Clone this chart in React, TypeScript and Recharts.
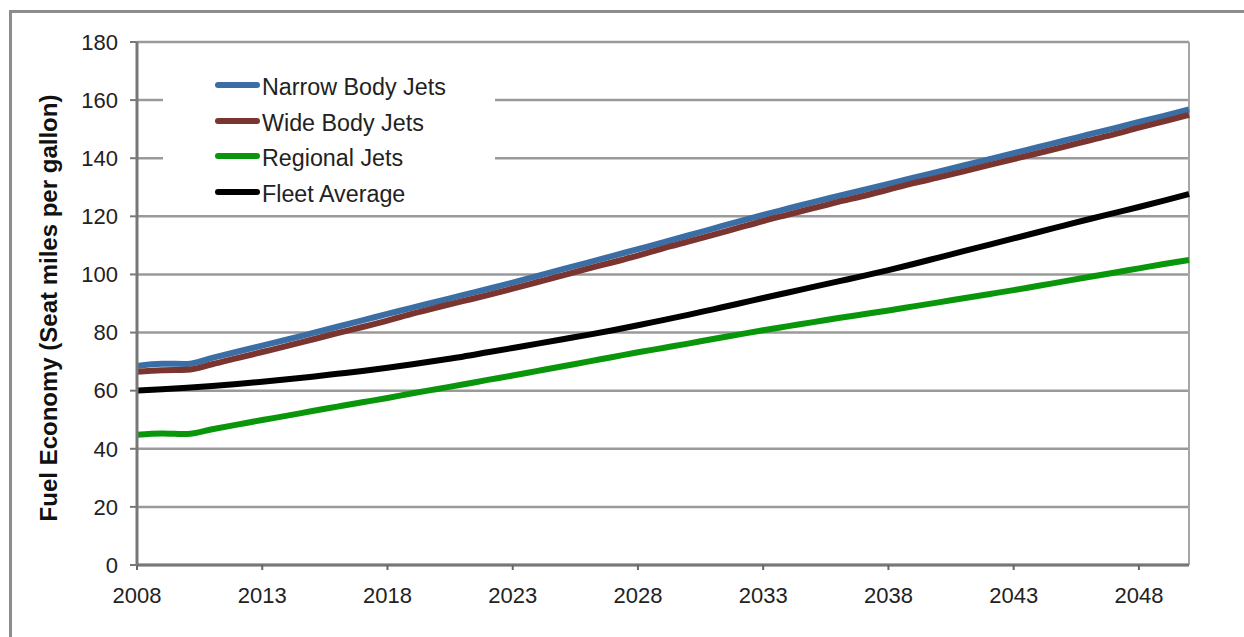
import { LineChart, Line, XAxis, YAxis, CartesianGrid, Legend, ReferenceLine, Label } from "recharts";

const years = [
  2008, 2009, 2010, 2011, 2012, 2013, 2014, 2015, 2016, 2017, 2018, 2019, 2020, 2021, 2022,
  2023, 2024, 2025, 2026, 2027, 2028, 2029, 2030, 2031, 2032, 2033, 2034, 2035, 2036, 2037,
  2038, 2039, 2040, 2041, 2042, 2043, 2044, 2045, 2046, 2047, 2048, 2049, 2050,
];

const narrowBody = [
  68.5, 69.3, 69.2, 71.3, 73.4, 75.5, 77.6, 79.8, 82.0, 84.2, 86.4, 88.6, 90.7, 92.9, 95.0,
  97.2, 99.5, 101.8, 104.1, 106.4, 108.7, 111.0, 113.4, 115.8, 118.2, 120.5, 122.7, 124.9, 127.0, 129.1,
  131.2, 133.3, 135.4, 137.5, 139.6, 141.7, 143.9, 146.0, 148.2, 150.3, 152.5, 154.6, 156.8,
];

const wideBody = [
  66.5, 67.0, 67.2, 69.1, 71.2, 73.3, 75.4, 77.6, 79.8, 81.9, 84.1, 86.5, 88.7, 90.8, 92.9,
  95.1, 97.4, 99.7, 102.0, 104.2, 106.5, 109.0, 111.3, 113.6, 116.0, 118.4, 120.6, 122.8, 125.0, 127.0,
  129.2, 131.4, 133.4, 135.5, 137.6, 139.7, 141.8, 143.9, 146.1, 148.2, 150.5, 152.7, 154.9,
];

const regional = [
  44.8, 45.3, 45.1, 46.7, 48.3, 49.9, 51.4, 53.0, 54.5, 56.0, 57.5, 59.1, 60.6, 62.1, 63.7,
  65.2, 66.8, 68.4, 70.0, 71.6, 73.2, 74.7, 76.2, 77.8, 79.3, 80.8, 82.2, 83.6, 85.0, 86.3,
  87.6, 89.0, 90.4, 91.8, 93.2, 94.6, 96.1, 97.6, 99.1, 100.6, 102.1, 103.6, 105.0,
];

const fleetAverage = [
  60.0, 60.5, 61.0, 61.6, 62.3, 63.1, 63.9, 64.8, 65.8, 66.8, 67.9, 69.1, 70.4, 71.7, 73.2,
  74.7, 76.2, 77.7, 79.2, 80.8, 82.5, 84.3, 86.1, 88.0, 89.9, 91.9, 93.8, 95.7, 97.6, 99.5,
  101.5, 103.6, 105.8, 108.0, 110.2, 112.4, 114.6, 116.8, 119.0, 121.1, 123.2, 125.4, 127.7,
];

const xTicks = [2008, 2013, 2018, 2023, 2028, 2033, 2038, 2043, 2048];
const yTicks = [0, 20, 40, 60, 80, 100, 120, 140, 160, 180];

const seriesNames = ["Narrow Body Jets", "Wide Body Jets", "Regional Jets", "Fleet Average"];
const seriesColors = ["#3c6ea6", "#7a3530", "#0a960a", "#000000"];

const rows = years.map((year, i) => ({
  year,
  narrow: narrowBody[i],
  wide: wideBody[i],
  regional: regional[i],
  fleet: fleetAverage[i],
}));

const font = '"Liberation Sans", Arial, Helvetica, sans-serif';

function LegendBox({ payload }: { payload?: any[] }) {
  const items = seriesNames.map((n) => (payload || []).find((p) => p.value === n)).filter(Boolean);
  return (
    <div style={{ background: "#fff", width: 332, height: 148, paddingTop: 8, boxSizing: "border-box" }}>
      {items.map((p: any) => (
        <div key={p.value} style={{ display: "flex", alignItems: "center", height: 35.6 }}>
          <span style={{ display: "inline-block", width: 45, height: 6, borderRadius: 3, background: p.color, marginLeft: 52, marginTop: -5 }} />
          <span style={{ fontFamily: font, fontSize: 23.3, color: "#222", marginLeft: 2, lineHeight: 1 }}>{p.value}</span>
        </div>
      ))}
    </div>
  );
}

export default function App() {
  return (
    <div style={{ position: "absolute", left: 0, top: 0, width: 1244, height: 637, background: "#fff", fontFamily: font, overflow: "hidden" }}>
      <div style={{ position: "absolute", left: 9, top: 10, right: -10, bottom: -10, borderTop: "3px solid #8c8c8c", borderLeft: "3px solid #8c8c8c" }} />
      <LineChart width={1244} height={637} data={rows} margin={{ top: 42, right: 55, bottom: 42, left: 77 }}>
        <CartesianGrid vertical={false} stroke="#9a9a9a" strokeWidth={2.5} />
        <ReferenceLine x={2050} stroke="#a6a6a6" strokeWidth={2} />
        <XAxis
          dataKey="year"
          type="number"
          domain={[2008, 2050]}
          ticks={xTicks}
          height={30}
          stroke="#777"
          strokeWidth={3}
          tickSize={5}
          tickMargin={17}
          tick={{ fill: "#222", fontSize: 22, fontFamily: font }}
          tickLine={{ stroke: "#666", strokeWidth: 2 }}
        />
        <YAxis
          type="number"
          domain={[0, 180]}
          ticks={yTicks}
          width={60}
          stroke="#777"
          strokeWidth={3}
          tickSize={7}
          tickMargin={12}
          tick={{ fill: "#222", fontSize: 22, fontFamily: font }}
          tickLine={{ stroke: "#777", strokeWidth: 2 }}
        >
          <Label
            content={() => (
              <text
                x={48}
                y={308}
                transform="rotate(-90 48 308)"
                textAnchor="middle"
                dominantBaseline="central"
                fontFamily={font}
                fontSize={24}
                fontWeight="bold"
                fill="#111"
              >
                Fuel Economy (Seat miles per gallon)
              </text>
            )}
          />
        </YAxis>
        <Legend
          layout="vertical"
          align="center"
          verticalAlign="middle"
          content={(props: any) => <LegendBox payload={props.payload} />}
          wrapperStyle={{ left: 163, top: 62, width: 332, height: 148 }}
        />
        <Line dataKey="narrow" name={seriesNames[0]} stroke={seriesColors[0]} strokeWidth={6} dot={false} type="monotone" isAnimationActive={false} />
        <Line dataKey="wide" name={seriesNames[1]} stroke={seriesColors[1]} strokeWidth={6} dot={false} type="monotone" isAnimationActive={false} />
        <Line dataKey="regional" name={seriesNames[2]} stroke={seriesColors[2]} strokeWidth={6} dot={false} type="monotone" isAnimationActive={false} />
        <Line dataKey="fleet" name={seriesNames[3]} stroke={seriesColors[3]} strokeWidth={6} dot={false} type="monotone" isAnimationActive={false} />
      </LineChart>
    </div>
  );
}
